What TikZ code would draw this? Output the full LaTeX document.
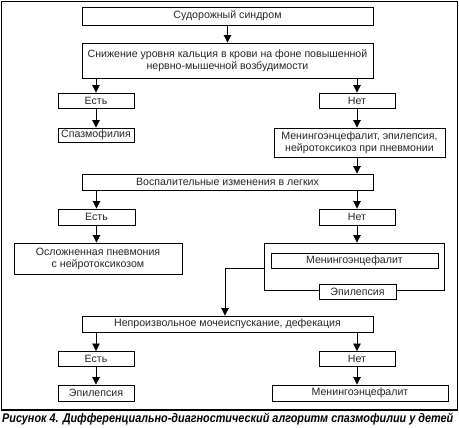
\documentclass[tikz,border=0pt]{standalone}
\usepackage{fontspec}
\setmainfont{Liberation Sans}
\usetikzlibrary{arrows.meta}
\begin{document}
\begin{tikzpicture}[x=1pt,y=-1pt,
  box/.style={draw=black,line width=0.9pt,fill=white,inner sep=0pt,align=center,
    font=\fontsize{10.6}{12.2}\selectfont,text=black!85},
  arr/.style={line width=0.9pt,-{Triangle[length=7.5pt,width=7.5pt]}},
  ln/.style={line width=0.9pt}]
\useasboundingbox (0,0) rectangle (459,428);
\fill[white] (0,0) rectangle (459,428);
\draw[line width=1.4pt] (1.5,1.5) rectangle (457.5,410);
\node[box,minimum width=291pt,minimum height=18pt] (top) at (227.5,16) {Судорожный синдром};
\node[box,minimum width=291pt,minimum height=35pt] (ca) at (227.5,60.5) {Снижение уровня кальция в крови на фоне повышенной\\нервно-мышечной возбудимости};
\node[box,minimum width=76pt,minimum height=15pt] (y1) at (96,100.5) {Есть};
\node[box,minimum width=76pt,minimum height=15pt] (n1) at (357,100.5) {Нет};
\node[box,minimum width=76pt,minimum height=14pt] (sp) at (96,135) {Спазмофилия};
\node[box,minimum width=171pt,minimum height=29pt] (mep) at (359.5,142.5) {Менингоэнцефалит, эпилепсия,\\нейротоксикоз при пневмонии};
\node[box,minimum width=291pt,minimum height=16pt] (vos) at (227.5,182) {Воспалительные изменения в легких};
\node[box,minimum width=77pt,minimum height=16pt] (y2) at (96.5,217) {Есть};
\node[box,minimum width=76pt,minimum height=16pt] (n2) at (357,217) {Нет};
\node[box,minimum width=168pt,minimum height=31pt] (osl) at (98,258.5) {Осложненная пневмония\\с нейротоксикозом};
\node[draw,ln,minimum width=180pt,minimum height=47pt,inner sep=0pt] (big) at (354,266.5) {};
\node[box,minimum width=167pt,minimum height=15pt] (men) at (354.5,260.5) {Менингоэнцефалит};
\node[box,minimum width=77pt,minimum height=15pt] (epi) at (357.5,291.5) {Эпилепсия};
\coordinate (turn) at (225,268);
\node[box,minimum width=291pt,minimum height=16pt] (nep) at (227.5,324) {Непроизвольное мочеиспускание, дефекация};
\node[box,minimum width=76pt,minimum height=15pt] (y3) at (96,359) {Есть};
\node[box,minimum width=76pt,minimum height=15pt] (n3) at (357,359) {Нет};
\node[box,minimum width=76pt,minimum height=16pt] (e3) at (96,393) {Эпилепсия};
\node[box,minimum width=176pt,minimum height=16pt] (m3) at (360,393) {Менингоэнцефалит};
\draw[arr] (top) -- (ca);
\draw[arr] (ca.south -| y1) -- (y1);
\draw[arr] (ca.south -| n1) -- (n1);
\draw[arr] (y1) -- (sp);
\draw[arr] (n1) -- (n1 |- mep.north);
\draw[arr] (mep.south -| n1) -- (vos.north -| n1);
\draw[arr] (vos.south -| y2) -- (y2);
\draw[arr] (vos.south -| n2) -- (n2);
\draw[arr] (y2) -- (y2 |- osl.north);
\draw[arr] (n2) -- (n2 |- big.north);
\draw[ln] (big.west |- turn) -- (turn);
\draw[arr] (turn) -- (turn |- nep.north);
\draw[arr] (nep.south -| y3) -- (y3);
\draw[arr] (nep.south -| n3) -- (n3);
\draw[arr] (y3) -- (e3);
\draw[arr] (n3) -- (n3 |- m3.north);
\node[font=\fontsize{12.5}{14}\selectfont\bfseries\itshape,inner sep=0pt,anchor=west] (cap) at (2,419) {\resizebox{451pt}{\height}{Рисунок 4. Дифференциально-диагностический алгоритм спазмофилии у детей}};
\end{tikzpicture}
\end{document}
